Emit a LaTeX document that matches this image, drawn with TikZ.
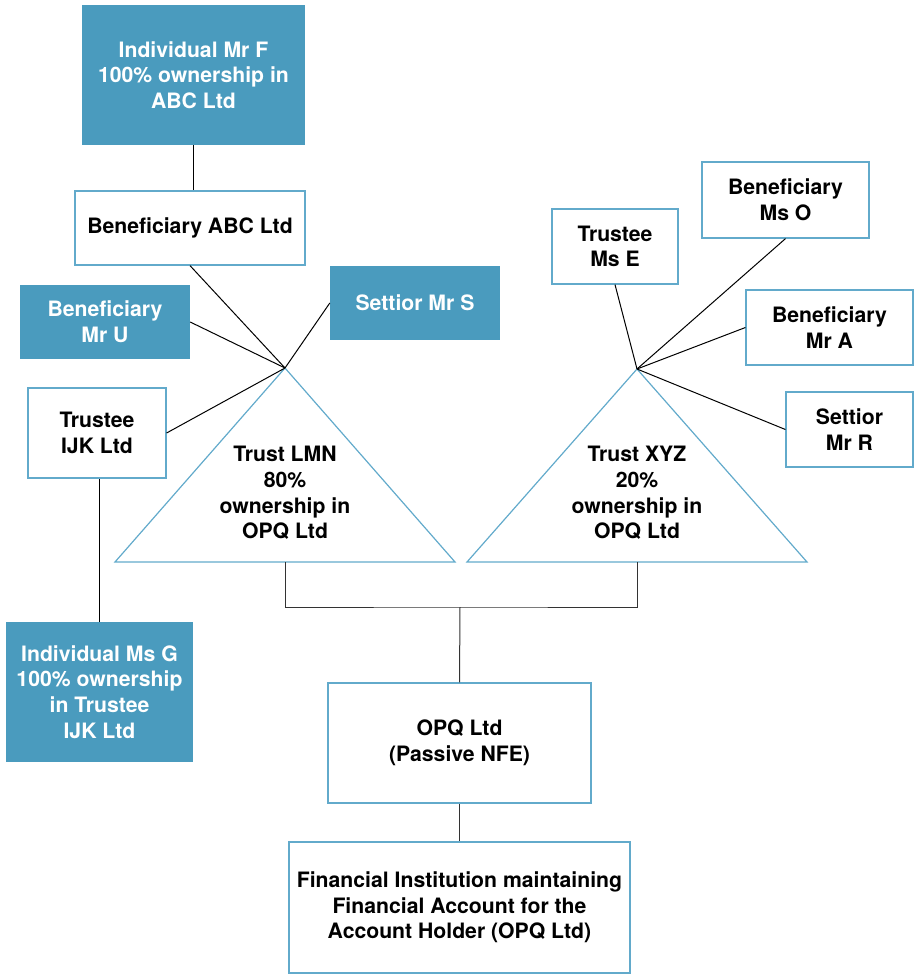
\documentclass[tikz,border=0pt]{standalone}
\usepackage{fontspec}
\setmainfont{TeX Gyre Heros}
\definecolor{boxblue}{HTML}{4A9BBE}
\definecolor{edgeblue}{HTML}{62AACB}
\tikzset{
  filled/.style={fill=boxblue, text=white, align=center, inner sep=0pt},
  plain/.style={draw=edgeblue, line width=1.2pt, fill=white, align=center, inner sep=0pt},
  label/.style={align=center, inner sep=0pt},
  link/.style={line width=1pt}
}
\begin{document}
\begin{tikzpicture}[x=1pt, y=-1pt, font=\fontsize{21.2}{25.6}\selectfont\bfseries]
      \useasboundingbox (0,0) rectangle (914,975);
      \coordinate (LMN) at (285,368);
      \coordinate (XYZ) at (637,369);
      \coordinate (LMNb) at (285,562);
      \coordinate (XYZb) at (637,562);
      \coordinate (join) at (460,607);
      % the two trusts
      \draw[edgeblue, line width=1.2pt] (LMN) -- (455,562) -- (115,562) -- cycle;
      \draw[edgeblue, line width=1.2pt] (XYZ) -- (807,562) -- (467,562) -- cycle;
      \node[label] (lmn) at (285,493) {Trust LMN\\80\%\\ownership in\\OPQ Ltd};
      \node[label] (xyz) at (637,493) {Trust XYZ\\20\%\\ownership in\\OPQ Ltd};
      % left side
      \node[filled, minimum width=223pt, minimum height=140pt] (mrF) at (193.5,75) {Individual Mr F\\100\% ownership in\\ABC Ltd};
      \node[plain, minimum width=230pt, minimum height=74pt] (abc) at (190,228) {Beneficiary ABC Ltd};
      \node[filled, minimum width=170pt, minimum height=74pt] (mrU) at (105,322) {Beneficiary\\Mr U};
      \node[filled, minimum width=170pt, minimum height=74pt] (mrS) at (415,303) {Settior Mr S};
      \node[plain, minimum width=138pt, minimum height=90pt] (ijk) at (97,433) {Trustee\\IJK Ltd};
      \node[filled, minimum width=187pt, minimum height=140pt] (msG) at (99.5,692) {Individual Ms G\\100\% ownership\\in Trustee\\IJK Ltd};
      % right side
      \node[plain, minimum width=126pt, minimum height=75pt] (msE) at (615,246.5) {Trustee\\Ms E};
      \node[plain, minimum width=167pt, minimum height=76pt] (msO) at (785.5,200) {Beneficiary\\Ms O};
      \node[plain, minimum width=167pt, minimum height=75pt] (mrA) at (829.5,327.5) {Beneficiary\\Mr A};
      \node[plain, minimum width=127pt, minimum height=75pt] (mrR) at (849.5,429.5) {Settior\\Mr R};
      % bottom
      \node[plain, minimum width=263pt, minimum height=120pt] (opq) at (459.5,743) {OPQ Ltd\\(Passive NFE)};
      \node[plain, minimum width=341pt, minimum height=131pt] (fi) at (459.5,907.5) {Financial Institution maintaining\\Financial Account for the\\Account Holder (OPQ Ltd)};
      \draw[link] (mrF.south) -- (mrF.south |- abc.north);
      \draw[link] (abc.south) -- (LMN);
      \draw[link] (mrU.east) -- (LMN);
      \draw[link] (mrS.west) -- (LMN);
      \draw[link] (ijk.east) -- (LMN);
      \draw[link] (msG.north) -- (msG.north |- ijk.south);
      \draw[link] (msE.south) -- (XYZ);
      \draw[link] (msO.south) -- (XYZ);
      \draw[link] (mrA.west) -- (XYZ);
      \draw[link] (mrR.west) -- (XYZ);
      \draw[link, black!80] (LMNb) |- (join) -| (XYZb);
      \draw[link, black!80] (join) -- (opq.north);
      \draw[link, black!80] (opq.south) -- (fi.north);
    \end{tikzpicture}
\end{document}
